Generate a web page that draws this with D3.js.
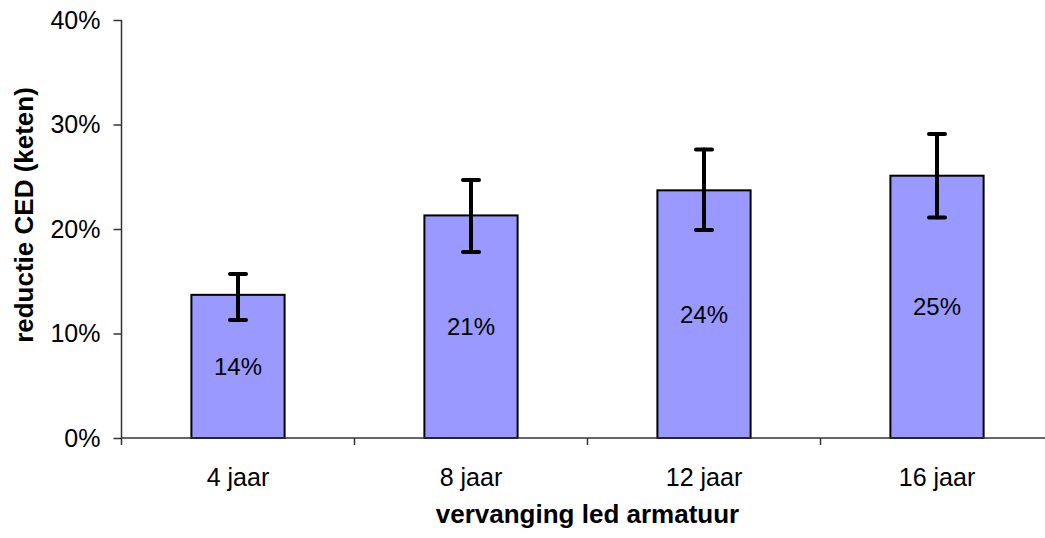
<!DOCTYPE html>
<html>
<head>
<meta charset="utf-8">
<script src="https://cdn.jsdelivr.net/npm/d3@7"></script>
<style>
  body { margin: 0; background: #fff; }
  text { font-family: "Liberation Sans", Arial, sans-serif; fill: #000; }
</style>
</head>
<body>
<svg id="chart" width="1045" height="538"></svg>
<script>
// Data
var categories = ['4 jaar', '8 jaar', '12 jaar', '16 jaar'];
var values = [0.137, 0.213, 0.237, 0.251];
var errLow = [0.113, 0.178, 0.199, 0.211];
var errHigh = [0.157, 0.247, 0.276, 0.291];
var labels = ['14%', '21%', '24%', '25%'];
var yTicks = [0, 0.1, 0.2, 0.3, 0.4];

var svg = d3.select('#chart');

// plot area runs a bit past the right edge, like the original
// (note: "top" is taken by window.top, so use plot* names)
var plotLeft = 121.5, plotRight = 1053.5, plotTop = 20, plotBottom = 438;

var x = d3.scaleBand().domain(categories).range([plotLeft, plotRight]).paddingInner(0.6).paddingOuter(0.3);
var y = d3.scaleLinear().domain([0, 0.4]).range([plotBottom, plotTop]);

// bars
svg.selectAll('rect.bar')
  .data(categories)
  .enter().append('rect')
  .attr('class', 'bar')
  .attr('x', function (d) { return x(d); })
  .attr('y', function (d, i) { return y(values[i]); })
  .attr('width', x.bandwidth())
  .attr('height', function (d, i) { return plotBottom - y(values[i]); })
  .attr('fill', '#9999ff')
  .attr('stroke', '#000')
  .attr('stroke-width', 2);

// data labels in the middle of each bar
svg.selectAll('text.val')
  .data(categories)
  .enter().append('text')
  .attr('class', 'val')
  .attr('x', function (d) { return x(d) + x.bandwidth() / 2; })
  .attr('y', function (d, i) { return (y(values[i]) + plotBottom) / 2; })
  .attr('dy', '0.35em')
  .attr('text-anchor', 'middle')
  .style('font-size', '24px')
  .text(function (d, i) { return labels[i]; });

// error bars
var err = svg.selectAll('g.err').data(categories).enter().append('g').attr('class', 'err')
  .attr('stroke', '#000').attr('stroke-width', 4).attr('stroke-linecap', 'round');
err.append('line')
  .attr('x1', function (d) { return x(d) + x.bandwidth() / 2; })
  .attr('x2', function (d) { return x(d) + x.bandwidth() / 2; })
  .attr('y1', function (d, i) { return y(errLow[i]); })
  .attr('y2', function (d, i) { return y(errHigh[i]); });
[errLow, errHigh].forEach(function (arr) {
  err.append('line')
    .attr('x1', function (d) { return x(d) + x.bandwidth() / 2 - 8; })
    .attr('x2', function (d) { return x(d) + x.bandwidth() / 2 + 8; })
    .attr('y1', function (d, i) { return y(arr[i]); })
    .attr('y2', function (d, i) { return y(arr[i]); });
});

// y axis
var yAxis = svg.append('g')
  .attr('transform', 'translate(' + plotLeft + ',0)')
  .call(d3.axisLeft(y).tickValues(yTicks).tickFormat(d3.format('.0%')).tickSize(8).tickPadding(13));
yAxis.select('.domain').attr('d', 'M0,' + plotTop + 'V' + (plotBottom + 7));
yAxis.selectAll('line, path').attr('stroke', '#333').attr('stroke-width', 1.5);
yAxis.selectAll('text').style('font-size', '25px').attr('fill', '#000');

// x axis with ticks between the categories
var step = x.step();
var xAxis = svg.append('g');
xAxis.append('line')
  .attr('x1', plotLeft).attr('x2', plotRight).attr('y1', plotBottom).attr('y2', plotBottom)
  .attr('stroke', '#333').attr('stroke-width', 1.5);
xAxis.selectAll('line.tk')
  .data(categories.slice(1))
  .enter().append('line')
  .attr('class', 'tk')
  .attr('x1', function (d) { return x(d) - (step - x.bandwidth()) / 2; })
  .attr('x2', function (d) { return x(d) - (step - x.bandwidth()) / 2; })
  .attr('y1', plotBottom).attr('y2', plotBottom + 7)
  .attr('stroke', '#333').attr('stroke-width', 1.5);
xAxis.selectAll('text')
  .data(categories)
  .enter().append('text')
  .attr('x', function (d) { return x(d) + x.bandwidth() / 2; })
  .attr('y', 486)
  .attr('text-anchor', 'middle')
  .style('font-size', '25px')
  .text(function (d) { return d; });

// axis titles
svg.append('text')
  .attr('x', (plotLeft + plotRight) / 2)
  .attr('y', 523)
  .attr('text-anchor', 'middle')
  .style('font-size', '26px')
  .style('font-weight', 'bold')
  .text('vervanging led armatuur');

svg.append('text')
  .attr('transform', 'translate(33,215) rotate(-90)')
  .attr('text-anchor', 'middle')
  .style('font-size', '26px')
  .style('font-weight', 'bold')
  .text('reductie CED (keten)');
</script>
</body>
</html>
